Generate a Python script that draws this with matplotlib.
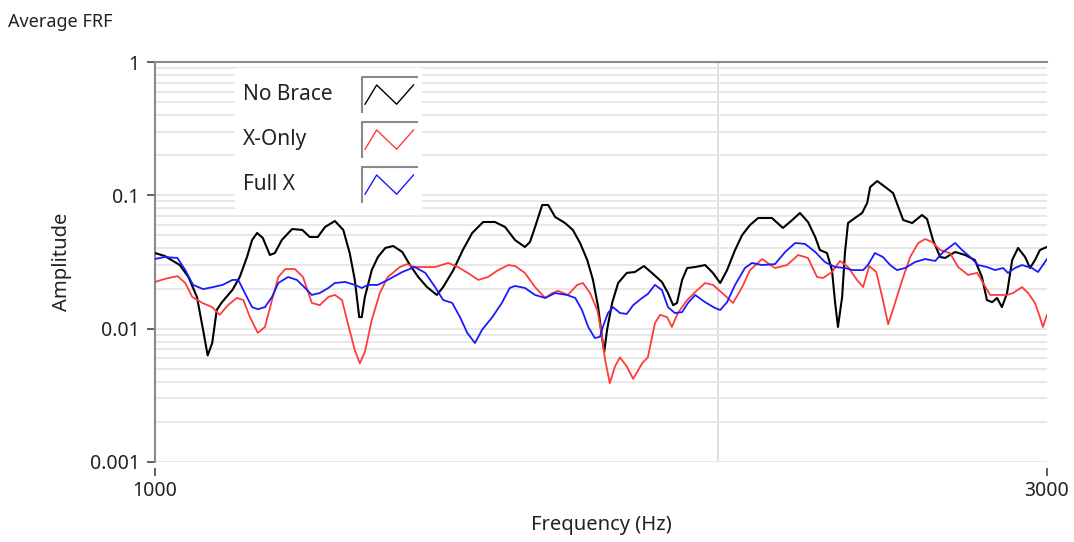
import numpy as np
import matplotlib.pyplot as plt
from matplotlib.ticker import LogLocator, NullLocator, FixedLocator, FixedFormatter
from matplotlib.patches import Rectangle

plt.rcParams['font.family'] = ['Noto Sans', 'DejaVu Sans']

# average FRF, three bracing configurations (Hz, amplitude)
freq_none = [1000, 1012, 1031, 1042, 1053, 1061, 1067, 1073, 1079, 1086,
             1100, 1110, 1120, 1127, 1134, 1142, 1152, 1159, 1169, 1184,
             1199, 1210, 1222, 1233, 1248, 1261, 1271, 1279, 1286, 1290,
             1295, 1306, 1316, 1328, 1341, 1356, 1369, 1383, 1398, 1415,
             1426, 1444, 1461, 1478, 1498, 1520, 1539, 1558, 1577, 1587,
             1597, 1611, 1623, 1637, 1657, 1673, 1688, 1703, 1715, 1726,
             1734, 1739, 1745, 1756, 1769, 1788, 1806, 1826, 1844, 1867,
             1881, 1893, 1902, 1914, 1926, 1945, 1969, 1988, 2006, 2023,
             2043, 2061, 2081, 2102, 2138, 2167, 2192, 2213, 2235, 2255,
             2268, 2288, 2302, 2311, 2319, 2331, 2339, 2348, 2368, 2389,
             2404, 2413, 2434, 2458, 2482, 2513, 2541, 2572, 2588, 2607,
             2630, 2646, 2679, 2712, 2745, 2769, 2786, 2804, 2821, 2838,
             2856, 2874, 2895, 2920, 2938, 2956, 2974, 3000]
amp_none = [0.0369, 0.0351, 0.0300, 0.0244, 0.0173, 0.0098, 0.0063, 0.0078, 0.0138, 0.0158,
            0.0195, 0.0244, 0.0345, 0.0462, 0.0522, 0.0479, 0.0357, 0.0369, 0.0462, 0.0559,
            0.0550, 0.0487, 0.0487, 0.0579, 0.0642, 0.0550, 0.0369, 0.0232, 0.0122, 0.0122,
            0.0173, 0.0275, 0.0345, 0.0403, 0.0417, 0.0376, 0.0300, 0.0244, 0.0205, 0.0179,
            0.0205, 0.0275, 0.0389, 0.0522, 0.0631, 0.0631, 0.0579, 0.0462, 0.0410, 0.0447,
            0.0579, 0.0846, 0.0846, 0.0688, 0.0620, 0.0550, 0.0439, 0.0327, 0.0232, 0.0145,
            0.0087, 0.0067, 0.0098, 0.0156, 0.0220, 0.0262, 0.0266, 0.0295, 0.0262, 0.0224,
            0.0185, 0.0150, 0.0156, 0.0232, 0.0285, 0.0290, 0.0300, 0.0262, 0.0220, 0.0275,
            0.0389, 0.0504, 0.0599, 0.0676, 0.0676, 0.0569, 0.0653, 0.0737, 0.0631, 0.0487,
            0.0389, 0.0369, 0.0275, 0.0156, 0.0103, 0.0173, 0.0369, 0.0620, 0.0676, 0.0737,
            0.0876, 0.1155, 0.1280, 0.1155, 0.1040, 0.0653, 0.0620, 0.0712, 0.0664, 0.0462,
            0.0345, 0.0339, 0.0376, 0.0357, 0.0327, 0.0244, 0.0164, 0.0158, 0.0170, 0.0145,
            0.0185, 0.0327, 0.0403, 0.0345, 0.0285, 0.0327, 0.0389, 0.0410]

freq_x = [1000, 1012, 1028, 1038, 1047, 1060, 1073, 1083, 1094, 1106,
          1115, 1124, 1135, 1145, 1155, 1164, 1174, 1188, 1200, 1213,
          1225, 1238, 1248, 1259, 1268, 1279, 1287, 1295, 1306, 1319,
          1332, 1352, 1364, 1377, 1395, 1412, 1435, 1452, 1470, 1489,
          1507, 1526, 1545, 1558, 1577, 1597, 1617, 1631, 1643, 1663,
          1682, 1694, 1709, 1724, 1732, 1741, 1751, 1762, 1773, 1788,
          1802, 1822, 1835, 1851, 1863, 1879, 1890, 1904, 1926, 1945,
          1969, 1988, 2011, 2038, 2061, 2081, 2112, 2146, 2178, 2208,
          2235, 2260, 2277, 2302, 2325, 2348, 2374, 2392, 2410, 2431,
          2449, 2467, 2488, 2510, 2535, 2560, 2582, 2604, 2630, 2662,
          2689, 2722, 2753, 2773, 2797, 2824, 2856, 2877, 2909, 2931,
          2956, 2974, 2985, 3000]
amp_x = [0.0224, 0.0236, 0.0248, 0.0220, 0.0173, 0.0156, 0.0145, 0.0127, 0.0150, 0.0170,
         0.0164, 0.0122, 0.0093, 0.0103, 0.0164, 0.0244, 0.0280, 0.0280, 0.0244, 0.0156,
         0.0150, 0.0173, 0.0179, 0.0164, 0.0110, 0.0069, 0.0055, 0.0067, 0.0116, 0.0185,
         0.0244, 0.0290, 0.0305, 0.0290, 0.0290, 0.0290, 0.0311, 0.0290, 0.0262, 0.0232,
         0.0244, 0.0275, 0.0300, 0.0295, 0.0262, 0.0205, 0.0170, 0.0185, 0.0192, 0.0179,
         0.0213, 0.0220, 0.0185, 0.0138, 0.0098, 0.0058, 0.0039, 0.0052, 0.0061, 0.0052,
         0.0042, 0.0055, 0.0061, 0.0110, 0.0127, 0.0122, 0.0103, 0.0131, 0.0164, 0.0188,
         0.0220, 0.0213, 0.0185, 0.0156, 0.0205, 0.0275, 0.0333, 0.0285, 0.0300, 0.0357,
         0.0339, 0.0244, 0.0240, 0.0266, 0.0322, 0.0290, 0.0232, 0.0205, 0.0295, 0.0266,
         0.0173, 0.0108, 0.0156, 0.0232, 0.0345, 0.0439, 0.0470, 0.0447, 0.0389, 0.0369,
         0.0290, 0.0253, 0.0262, 0.0220, 0.0179, 0.0179, 0.0179, 0.0185, 0.0205, 0.0185,
         0.0156, 0.0122, 0.0103, 0.0127]

freq_full = [1000, 1012, 1028, 1038, 1048, 1061, 1074, 1087, 1100, 1108,
             1117, 1127, 1135, 1145, 1155, 1164, 1178, 1191, 1203, 1213,
             1225, 1238, 1248, 1264, 1279, 1290, 1300, 1316, 1332, 1356,
             1377, 1395, 1412, 1426, 1442, 1456, 1469, 1483, 1496, 1515,
             1533, 1548, 1558, 1577, 1597, 1617, 1637, 1661, 1678, 1692,
             1705, 1719, 1730, 1736, 1747, 1758, 1773, 1788, 1802, 1822,
             1835, 1851, 1867, 1881, 1897, 1914, 1928, 1945, 1969, 1993,
             2006, 2023, 2043, 2068, 2086, 2112, 2146, 2173, 2200, 2227,
             2255, 2282, 2311, 2339, 2362, 2392, 2406, 2427, 2451, 2473,
             2494, 2519, 2550, 2582, 2614, 2640, 2679, 2702, 2729, 2756,
             2786, 2814, 2842, 2859, 2884, 2909, 2945, 2967, 2985, 3000]
amp_full = [0.0333, 0.0345, 0.0339, 0.0275, 0.0213, 0.0198, 0.0205, 0.0213, 0.0232, 0.0232,
            0.0185, 0.0145, 0.0140, 0.0145, 0.0173, 0.0220, 0.0244, 0.0232, 0.0202, 0.0179,
            0.0185, 0.0202, 0.0220, 0.0224, 0.0213, 0.0202, 0.0213, 0.0213, 0.0232, 0.0266,
            0.0290, 0.0262, 0.0205, 0.0164, 0.0156, 0.0122, 0.0093, 0.0078, 0.0098, 0.0122,
            0.0156, 0.0202, 0.0209, 0.0202, 0.0179, 0.0170, 0.0185, 0.0179, 0.0170, 0.0138,
            0.0103, 0.0085, 0.0087, 0.0103, 0.0131, 0.0145, 0.0131, 0.0129, 0.0150, 0.0170,
            0.0182, 0.0213, 0.0195, 0.0145, 0.0131, 0.0133, 0.0156, 0.0179, 0.0158, 0.0143,
            0.0138, 0.0158, 0.0213, 0.0285, 0.0311, 0.0300, 0.0305, 0.0376, 0.0439, 0.0432,
            0.0376, 0.0316, 0.0290, 0.0285, 0.0275, 0.0275, 0.0300, 0.0369, 0.0345, 0.0300,
            0.0275, 0.0285, 0.0316, 0.0333, 0.0322, 0.0376, 0.0439, 0.0389, 0.0345, 0.0300,
            0.0290, 0.0275, 0.0285, 0.0262, 0.0285, 0.0300, 0.0285, 0.0266, 0.0300, 0.0333]

series_names = ['No Brace', 'X-Only', 'Full X']
series_colors = ['#000000', '#ff3c3c', '#1a1aff']

fig = plt.figure(figsize=(10.74, 5.42), dpi=100)
ax = fig.add_axes([155 / 1074, 1 - 462 / 542, 892 / 1074, 400 / 542])
ax.set_xscale('log')
ax.set_yscale('log')
ax.set_xlim(1000, 3000)
ax.set_ylim(0.001, 1)

# light horizontal grid on every minor decade step, one vertical line at 2 kHz
ax.yaxis.set_major_locator(FixedLocator([0.001, 0.01, 0.1, 1]))
ax.yaxis.set_major_formatter(FixedFormatter(['0.001', '0.01', '0.1', '1']))
ax.yaxis.set_minor_locator(LogLocator(base=10, subs=np.arange(2, 10)))
ax.yaxis.grid(True, which='both', color='#e6e6e6', lw=1.3, zorder=0)
ax.axvline(2000, color='#dcdcdc', lw=1.3, zorder=0)
ax.tick_params(axis='y', which='minor', length=0)

ax.xaxis.set_major_locator(FixedLocator([1000, 3000]))
ax.xaxis.set_major_formatter(FixedFormatter(['1000', '3000']))
ax.xaxis.set_minor_locator(NullLocator())

for s in ['top', 'left']:
    ax.spines[s].set_color('#8a8a8a')
    ax.spines[s].set_linewidth(1.5)
ax.spines['right'].set_visible(False)
ax.spines['bottom'].set_position(('outward', 4.5))
ax.spines['bottom'].set_color('none')

ax.tick_params(axis='y', which='major', length=6, width=1.3, color='#555555',
               pad=5, labelsize=14, labelcolor='#222222')
ax.tick_params(axis='x', which='major', length=5.5, width=1.3, color='#555555',
               pad=4, labelsize=14, labelcolor='#222222')

ax.plot(freq_none, amp_none, color=series_colors[0], lw=1.5, zorder=3)
ax.plot(freq_x, amp_x, color=series_colors[1], lw=1.3, zorder=3)
ax.plot(freq_full, amp_full, color=series_colors[2], lw=1.3, zorder=3)

# legend panel with framed zigzag swatches
ax.add_patch(Rectangle((0.0897, 0.6275), 0.2096, 0.3575, transform=ax.transAxes,
                       facecolor='white', edgecolor='none', zorder=5))
zig_x = np.array([0.0, 0.22, 0.6, 0.92])
zig_y = np.array([0.0, 1.0, 0.0, 1.0])
for i, (name, col) in enumerate(zip(series_names, series_colors)):
    yc = 0.9175 - i * 0.1125
    ax.text(0.0987, yc, name, transform=ax.transAxes, fontsize=15,
            color='#222222', va='center', ha='left', zorder=6)
    top = yc + 0.045
    ax.plot([0.2325, 0.2325, 0.2945], [top - 0.09, top, top], transform=ax.transAxes,
            color='#8a8a8a', lw=1.5, zorder=6, solid_capstyle='butt')
    ax.plot(0.2355 + zig_x * 0.0590, top - 0.068 + zig_y * 0.048,
            transform=ax.transAxes, color=col, lw=1.0, zorder=6)

fig.text(8 / 1074, 1 - 22 / 542, 'Average FRF', fontsize=13, color='#222222',
         va='center', ha='left')
fig.text(62 / 1074, 1 - 262 / 542, 'Amplitude', fontsize=14.5, color='#222222',
         rotation=90, va='center', ha='center')
fig.text(601 / 1074, 1 - 525 / 542, 'Frequency (Hz)', fontsize=14.5, color='#222222',
         va='center', ha='center')

fig.savefig('out.png', dpi=100)
